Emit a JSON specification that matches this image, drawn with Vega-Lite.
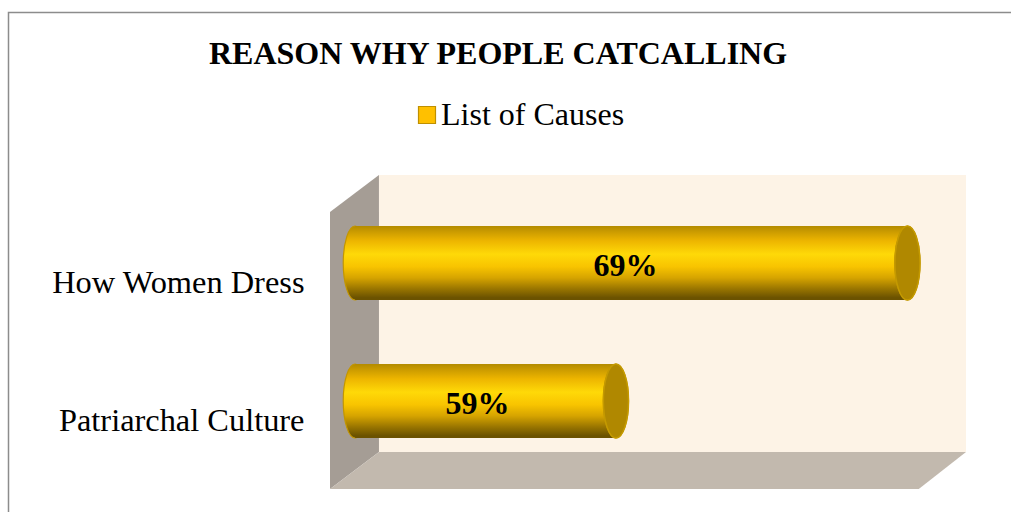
{
"$schema":"https://vega.github.io/schema/vega-lite/v6.json",
"width":636,"height":314,
"autosize":{"type":"none"},
"padding":{"left":330,"top":175,"right":45,"bottom":23},
"background":"#ffffff",
"view":{"stroke":null,"fill":null},
"config":{"font":"Liberation Serif"},
"title":{"text":"REASON WHY PEOPLE CATCALLING","font":"Liberation Serif","fontSize":32,"fontWeight":"bold","color":"#000000","anchor":"middle","frame":"group","dx":-150,"offset":-84,"baseline":"alphabetic"},
"datasets":{
 "causes":[
  {"cause":"How Women Dress","value":69,"series":"List of Causes","mid":59.33,"label":"69%"},
  {"cause":"Patriarchal Culture","value":59,"series":"List of Causes","mid":54.25,"label":"59%"}
 ],
 "sidewall":[{"p":49.19,"d":37,"d2":314},{"p":50.87,"d":0,"d2":277}],
 "floor":[{"p":49.19,"d":314,"d2":314},{"p":50.87,"d":277,"d2":314},{"p":69.39,"d":277,"d2":314},{"p":71.01,"d":277,"d2":277}],
 "wall":[{"p":50.87,"p2":71.01,"d":0,"d2":277}],
 "frame":[{"p":38.16,"p2":90,"d":-162.5,"d2":500}]
},
"layer":[
 {"layer":[
  {"data":{"name":"frame"},"mark":{"type":"rect","fill":null,"stroke":"#8c8c8c","strokeWidth":1.5,"clip":false},
   "encoding":{"x":{"field":"p","type":"quantitative","scale":{"domain":[49.19,71.01],"nice":false,"zero":false},"axis":null},"x2":{"field":"p2"},
    "y":{"field":"d","type":"quantitative","scale":{"domain":[314,0],"nice":false,"zero":false},"axis":null},"y2":{"field":"d2"}}},
  {"data":{"name":"wall"},"mark":{"type":"rect","fill":"#FDF3E6"},
   "encoding":{"x":{"field":"p","type":"quantitative"},"x2":{"field":"p2"},"y":{"field":"d","type":"quantitative"},"y2":{"field":"d2"}}},
  {"data":{"name":"sidewall"},"mark":{"type":"area","fill":"#A59D95","orient":"vertical"},
   "encoding":{"x":{"field":"p","type":"quantitative"},"y":{"field":"d","type":"quantitative"},"y2":{"field":"d2"}}},
  {"data":{"name":"floor"},"mark":{"type":"area","fill":"#C2B9AE","orient":"vertical"},
   "encoding":{"x":{"field":"p","type":"quantitative"},"y":{"field":"d","type":"quantitative"},"y2":{"field":"d2"}}}
 ]},
 {"data":{"name":"causes"},
  "encoding":{"y":{"field":"cause","type":"nominal","sort":["How Women Dress","Patriarchal Culture"],"title":null,
    "scale":{"domain":["How Women Dress","Patriarchal Culture"],"range":[19,295],"paddingInner":0.464,"paddingOuter":0.232},
    "axis":{"orient":"left","ticks":false,"domain":false,"grid":false,"labelFont":"Liberation Serif","labelFontSize":32.4,"labelColor":"#000000","labelPadding":26,"labelLimit":400,"labelOffset":20}}},
  "layer":[
   {"mark":{"type":"point","filled":true,"opacity":1,"stroke":"#C39600","strokeWidth":1.2,"size":5476,
     "shape":"M0,-1 C0.177,-1 0.32,-0.552 0.32,0 C0.32,0.552 0.177,1 0,1 C-0.177,1 -0.32,0.552 -0.32,0 C-0.32,-0.552 -0.177,-1 0,-1 Z",
     "fill":{"gradient":"linear","x1":0,"y1":0,"x2":0,"y2":1,"stops":[{"offset":0,"color":"#B38B00"},{"offset":0.08,"color":"#CC9C00"},{"offset":0.2,"color":"#EDB500"},{"offset":0.38,"color":"#FFD908"},{"offset":0.55,"color":"#F8C400"},{"offset":0.7,"color":"#D6A400"},{"offset":0.85,"color":"#997500"},{"offset":0.97,"color":"#6B5200"}]}},
    "encoding":{"x":{"datum":50.05,"type":"quantitative"}}},
   {"mark":{"type":"bar",
     "color":{"gradient":"linear","x1":0,"y1":0,"x2":0,"y2":1,"stops":[{"offset":0,"color":"#B38B00"},{"offset":0.08,"color":"#CC9C00"},{"offset":0.2,"color":"#EDB500"},{"offset":0.38,"color":"#FFD908"},{"offset":0.55,"color":"#F8C400"},{"offset":0.7,"color":"#D6A400"},{"offset":0.85,"color":"#997500"},{"offset":0.97,"color":"#6B5200"}]}},
    "encoding":{"x":{"field":"value","type":"quantitative"},"x2":{"datum":50.05}}},
   {"mark":{"type":"point","filled":true,"opacity":1,"stroke":"#BF9000","strokeWidth":1.2,"size":5476,
     "shape":"M0,-1 C0.187,-1 0.34,-0.552 0.34,0 C0.34,0.552 0.187,1 0,1 C-0.187,1 -0.34,0.552 -0.34,0 C-0.34,-0.552 -0.187,-1 0,-1 Z"},
    "encoding":{"x":{"field":"value","type":"quantitative"},
     "fill":{"field":"series","type":"nominal","title":null,"scale":{"domain":["List of Causes"],"range":["#FFC000"]},
      "legend":{"orient":"none","legendX":81,"legendY":-76,"symbolType":"square","symbolSize":289,"labelFont":"Liberation Serif","labelFontSize":32,"labelColor":"#000000","labelOffset":-2,"labelLimit":400,"symbolStrokeWidth":1.2}}}},
   {"mark":{"type":"point","filled":true,"opacity":1,"fill":"#B08800","stroke":"#C49A00","strokeWidth":1.5,"size":5476,
     "shape":"M0,-1 C0.187,-1 0.34,-0.552 0.34,0 C0.34,0.552 0.187,1 0,1 C-0.187,1 -0.34,0.552 -0.34,0 C-0.34,-0.552 -0.187,-1 0,-1 Z"},
    "encoding":{"x":{"field":"value","type":"quantitative"}}},
   {"mark":{"type":"text","font":"Liberation Serif","fontSize":32,"fontWeight":"bold","color":"#000000","align":"center","baseline":"middle","dy":3},
    "encoding":{"x":{"field":"mid","type":"quantitative"},"text":{"field":"label"}}}
  ]}
],
"resolve":{"scale":{"y":"independent"}}
}
